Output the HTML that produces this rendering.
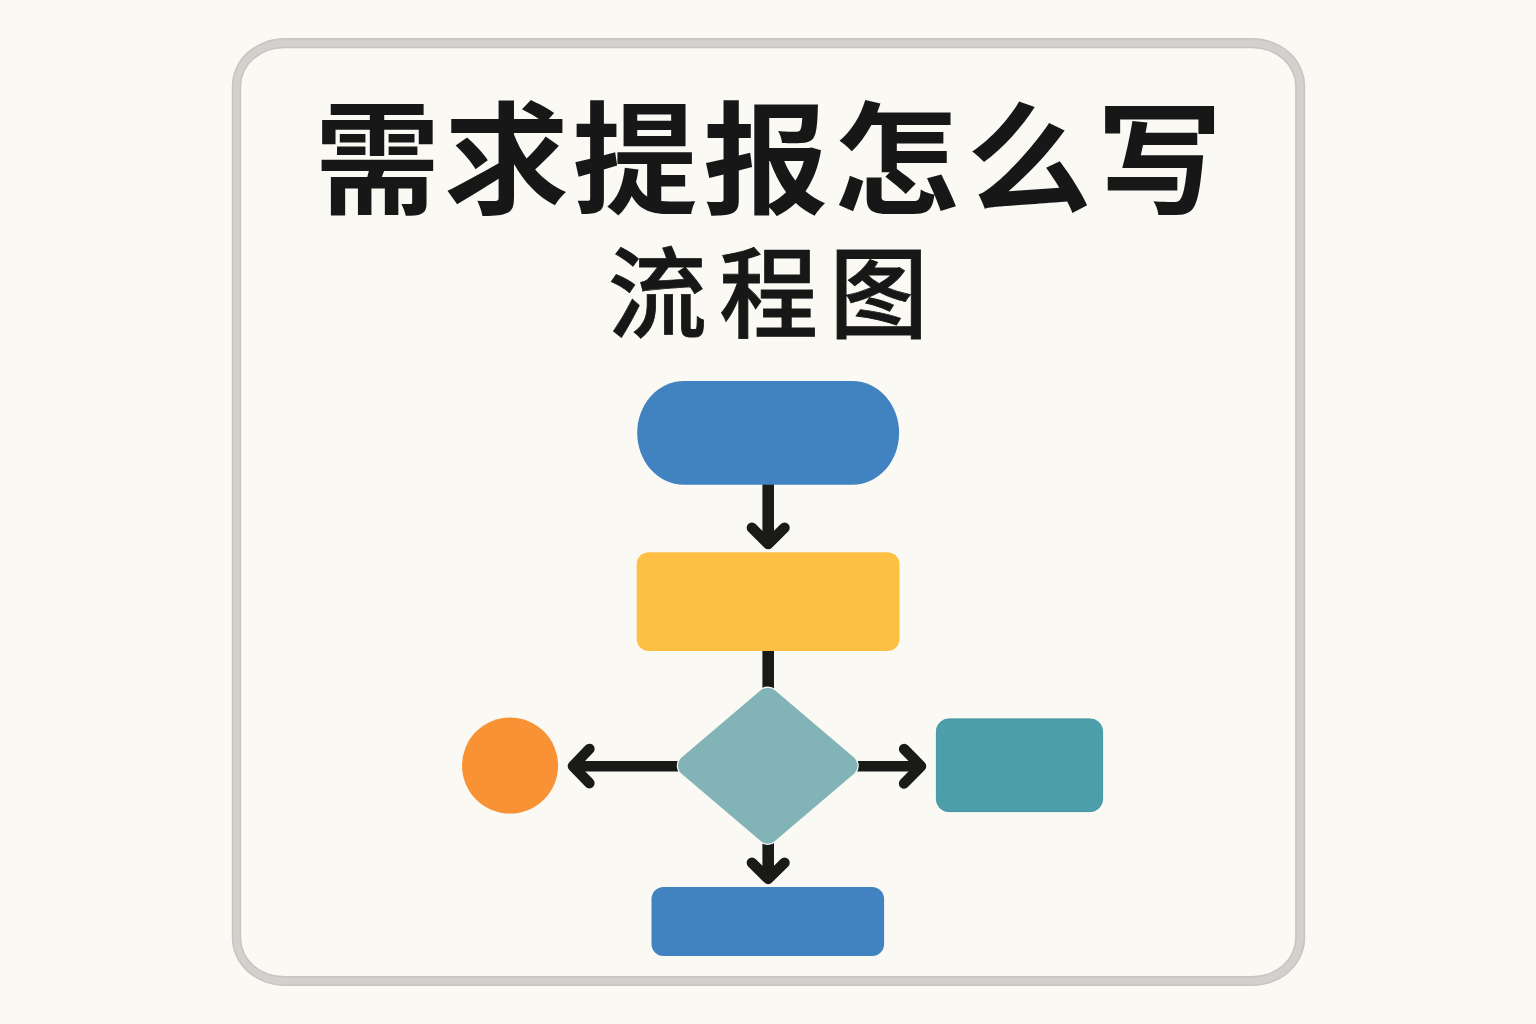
<!DOCTYPE html>
<html lang="zh-CN">
<head>
<meta charset="utf-8">
<title>需求提报怎么写 流程图</title>
<style>
html,body{margin:0;padding:0;background:#fbf9f4;}
body{width:1536px;height:1024px;overflow:hidden;position:relative;}
svg{position:absolute;left:0;top:0;display:block;}
text{font-family:"Liberation Sans","Noto Sans CJK SC",sans-serif;fill:#171717;}
.t1{font-size:123px;font-weight:700;}
.t2{font-size:99px;font-weight:500;stroke:#171717;stroke-width:0.8px;stroke-linejoin:miter;}
.ar{fill:none;stroke:#1a1a19;stroke-width:10.5;stroke-linecap:round;stroke-linejoin:round;}
.sh{fill:none;stroke:#1a1a19;stroke-width:10.6;stroke-linecap:butt;}
.sv{fill:none;stroke:#1a1a19;stroke-width:11.6;stroke-linecap:butt;}
</style>
</head>
<body>
<svg width="1536" height="1024" viewBox="0 0 1536 1024">
  <rect x="0" y="0" width="1536" height="1024" fill="#fbf9f4"/>
  <!-- frame -->
  <path d="M284.8 38 H1252.2 A53 48 0 0 1 1305.2 86.0 V938.0 A53 48 0 0 1 1252.2 986 H284.8 A53 48 0 0 1 231.8 938.0 V86.0 A53 48 0 0 1 284.8 38 Z M284.2 48.2 H1252.1 A43 38 0 0 1 1295.1 86.2 V938.1 A43 38 0 0 1 1252.1 976.1 H284.2 A43 38 0 0 1 241.2 938.1 V86.2 A43 38 0 0 1 284.2 48.2 Z" fill="#c6c5c0" fill-rule="evenodd"/>
  <path d="M284.8 39.5 H1252.2 A51.5 46.5 0 0 1 1303.7 86.0 V938.0 A51.5 46.5 0 0 1 1252.2 984.5 H284.8 A51.5 46.5 0 0 1 233.3 938.0 V86.0 A51.5 46.5 0 0 1 284.8 39.5 Z M284.2 46.7 H1252.1 A44.5 39.5 0 0 1 1296.6 86.2 V938.1 A44.5 39.5 0 0 1 1252.1 977.6 H284.2 A44.5 39.5 0 0 1 239.7 938.1 V86.2 A44.5 39.5 0 0 1 284.2 46.7 Z" fill="#d2d1cd" fill-rule="evenodd"/>
  <!-- title -->
  <text class="t1" transform="scale(1.018 0.988)" y="206.4" x="309.1 436.2 562.5 690.6 818.9 949.5 1077.5">需求提报怎么写</text>
  <text class="t2" y="330.2" x="607.7 719 829.2">流程图</text>

  <!-- connectors -->
  <path class="sv" d="M768.2 484 V544"/>
  <path class="ar" d="M751.9 527.7 L768.2 544 L784.5 527.7"/>
  <path class="sv" d="M768.2 650 V700"/>
  <path class="sv" d="M768.2 835 V879"/>
  <path class="ar" d="M751.9 862.7 L768.2 878.9 L784.5 862.7"/>
  <path class="sh" d="M573 766.2 H690"/>
  <path class="ar" d="M589.4 748.9 L572.9 766.1 L589.4 783.2"/>
  <path class="sh" d="M845 766.2 H921"/>
  <path class="ar" d="M904.1 749 L921 766.2 L904.1 783.4"/>

  <!-- shapes -->
  <rect x="637.2" y="381" width="261.9" height="103.7" rx="46.5" ry="51.85" fill="#4182c0"/>
  <rect x="636.7" y="552.2" width="262.8" height="98.9" rx="12" fill="#fdc044"/>
  <path d="M767.8 698.7 L846.6 765.7 L767.8 832.7 L689.0 765.7 Z" fill="#fbf9f4" stroke="#fbf9f4" stroke-width="24.4" stroke-linejoin="round"/>
  <path d="M767.8 698.7 L846.6 765.7 L767.8 832.7 L689.0 765.7 Z" fill="#82b4b7" stroke="#82b4b7" stroke-width="22" stroke-linejoin="round"/>
  <circle cx="510.05" cy="765.55" r="48.05" fill="#f89235"/>
  <rect x="936.4" y="718.9" width="166.2" height="92.7" rx="12.5" fill="#4c9faa" stroke="#4496a3" stroke-width="1"/>
  <rect x="651.5" y="886.9" width="232.6" height="69" rx="12" fill="#4182c0"/>
</svg>
</body>
</html>
